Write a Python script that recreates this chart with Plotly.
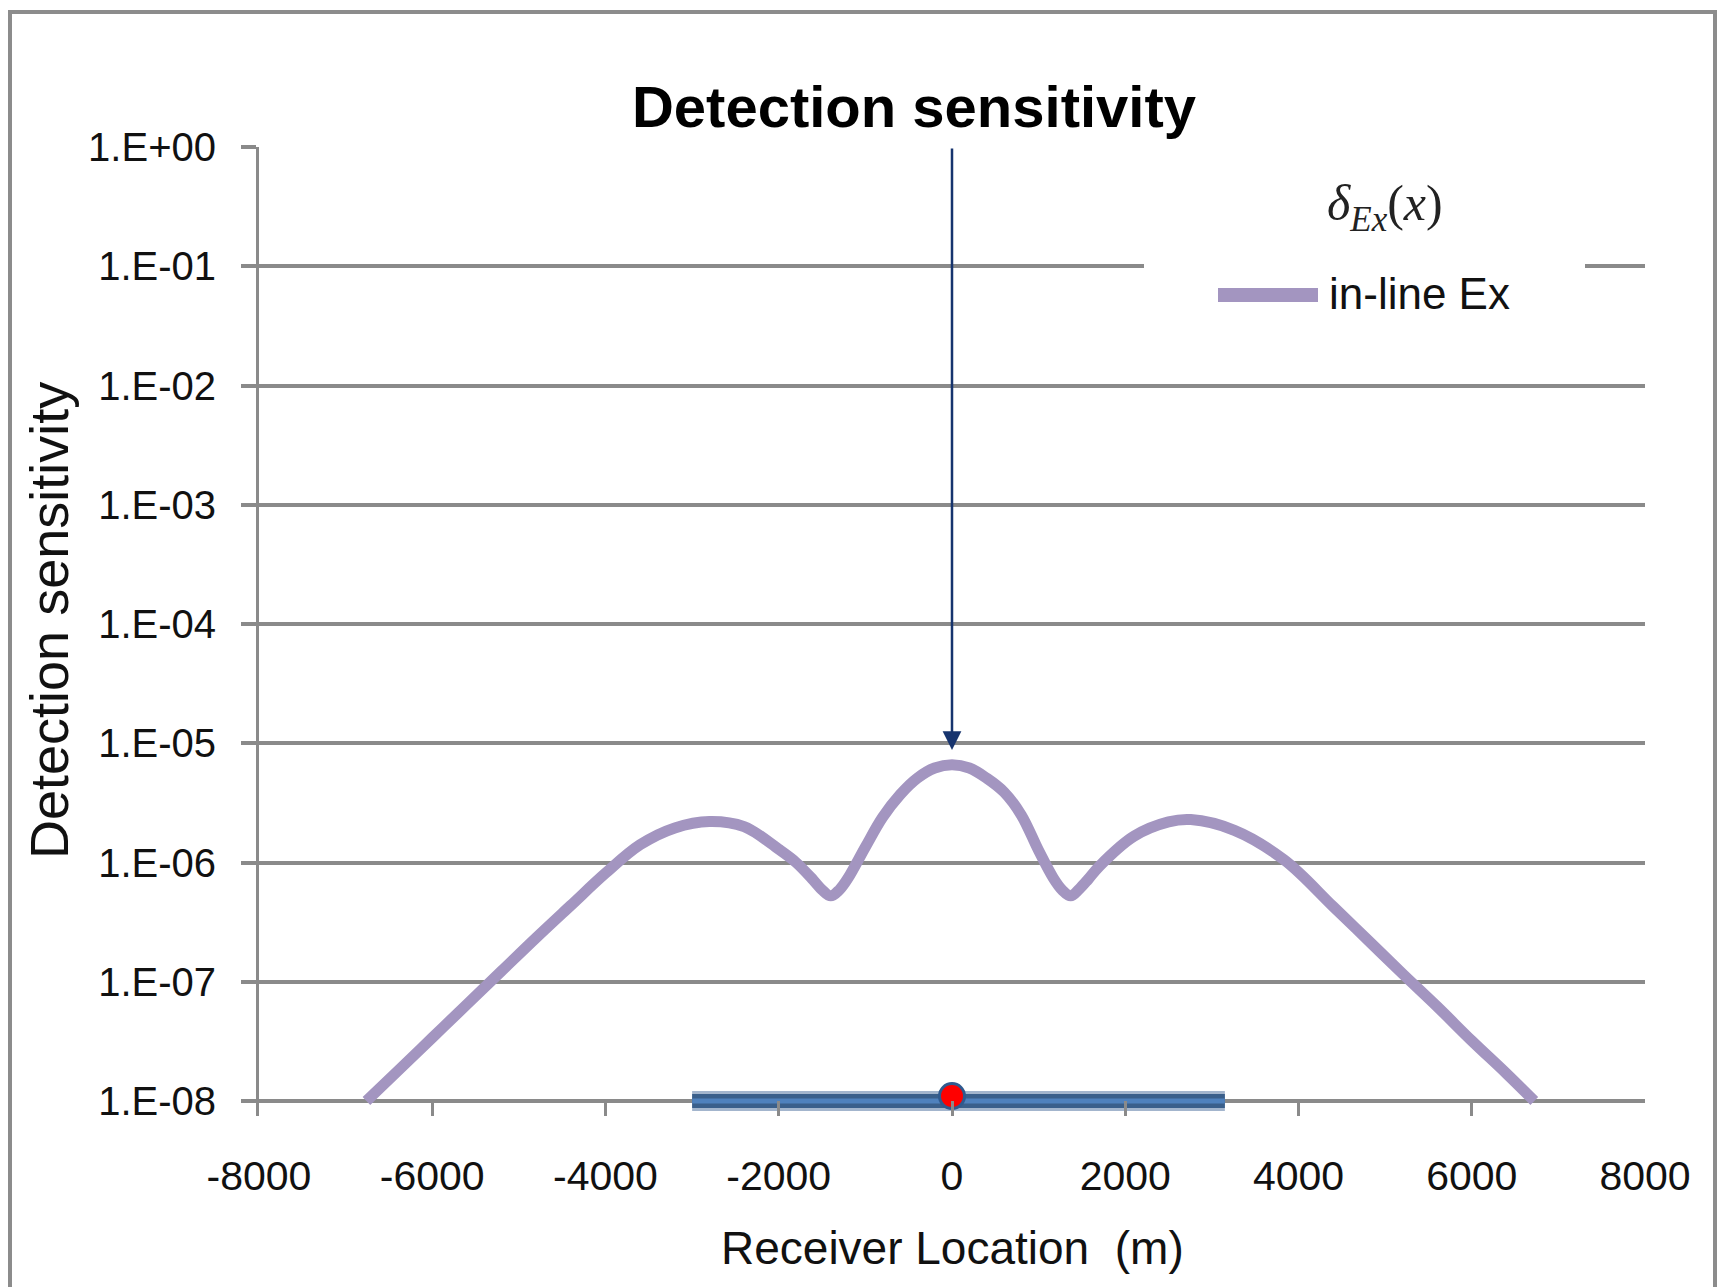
import numpy as np
import plotly.graph_objects as go

# In-line Ex detection sensitivity versus receiver offset
receiver_x = [-6760, -6400, -6000, -5600, -5200, -4800, -4400, -4000, -3600, -3200,
              -2800, -2400, -2000, -1800, -1600, -1500, -1400, -1300, -1200, -1000,
              -800, -600, -400, -200, 0, 200, 400, 600, 800, 1000,
              1170, 1270, 1370, 1470, 1570, 1700, 2100, 2500, 2757, 3260,
              3835, 4400, 4800, 5200, 5600, 6000, 6400, 6722]
sensitivity = [1.00e-8, 1.78e-8, 3.39e-8, 6.46e-8, 1.23e-7, 2.34e-7, 4.37e-7, 8.13e-7, 1.41e-6, 1.95e-6,
               2.21e-6, 2.00e-6, 1.29e-6, 1.00e-6, 7.1e-7, 5.9e-7, 5.25e-7, 5.9e-7, 7.4e-7, 1.35e-6,
               2.4e-6, 3.7e-6, 5.1e-6, 6.2e-6, 6.6e-6, 6.2e-6, 5.1e-6, 3.9e-6, 2.5e-6, 1.26e-6,
               7.4e-7, 5.9e-7, 5.25e-7, 6.0e-7, 7.2e-7, 9.3e-7, 1.66e-6, 2.19e-6, 2.29e-6, 1.86e-6,
               1.05e-6, 4.27e-7, 2.24e-7, 1.17e-7, 6.2e-8, 3.2e-8, 1.7e-8, 1.0e-8]

# Target extent along the line and the source position
target_x = [-3000, 3150]
target_y = [1e-8, 1e-8]
source_x = [0]
source_y = [1.1e-8]

# Arrow pointing at the peak response
arrow_x = 0
arrow_top = 1.0
arrow_tip = 8.77e-6

y_tickvals = [1e-8, 1e-7, 1e-6, 1e-5, 1e-4, 1e-3, 1e-2, 1e-1, 1e0]
y_ticktext = ["1.E-08", "1.E-07", "1.E-06", "1.E-05", "1.E-04", "1.E-03", "1.E-02", "1.E-01", "1.E+00"]
x_tickvals = [-8000, -6000, -4000, -2000, 0, 2000, 4000, 6000, 8000]
x_ticktext = ["-8000", "-6000", "-4000", "-2000", "0", "2000", "4000", "6000", "8000"]

title_text = "Detection sensitivity"
x_title = "Receiver Location \u00a0(m)"
y_title = "Detection sensitivity"
series_name = "in-line Ex"
legend_title = "<i>δ</i><sub><i>Ex</i></sub>(<i>x</i>)"

SANS = "Liberation Sans, Arial, sans-serif"
SERIF = "Liberation Serif, Times New Roman, serif"
GRID = "#8a8a8a"
CURVE = "#a395c0"
NAVY = "#17346e"

fig = go.Figure()

fig.add_trace(go.Scatter(
    x=receiver_x, y=sensitivity, mode="lines", name=series_name,
    line=dict(color=CURVE, width=11, shape="spline", smoothing=1.0),
    showlegend=False,
))

# Target bar: soft edge, dark body, lighter centre stripe
for w, c in [(20, "#a3b5cd"), (14, "#3a5f8b"), (5, "#4f81bd")]:
    fig.add_trace(go.Scatter(
        x=target_x, y=target_y, mode="lines",
        line=dict(color=c, width=w), showlegend=False, hoverinfo="skip",
    ))

fig.add_trace(go.Scatter(
    x=source_x, y=source_y, mode="markers",
    marker=dict(size=25, color="#ff0000", line=dict(color="#2f5a8f", width=3)),
    showlegend=False, cliponaxis=False,
))

W, H = 1717, 1287
L, R, T, B = 259, 72, 147, 171
plot_h = H - T - B


def py(pix):
    return (H - B - pix) / plot_h


def px(pix):
    return (pix - L) / (W - L - R)


shapes = [
    # outer chart frame
    dict(type="rect", xref="paper", yref="paper", x0=px(10), x1=px(1715), y0=py(1300), y1=py(12),
         line=dict(color="#8c8c8c", width=4), fillcolor="rgba(0,0,0,0)", layer="below"),
    # legend background
    dict(type="rect", xref="paper", yref="paper", x0=px(1144), x1=px(1585), y0=py(330), y1=py(165),
         line=dict(width=0), fillcolor="white", layer="above"),
    # legend sample line
    dict(type="line", xref="paper", yref="paper", x0=px(1218), x1=px(1318), y0=py(295), y1=py(295),
         line=dict(color=CURVE, width=14), layer="above"),
]

annotations = [
    dict(x=arrow_x, y=np.log10(arrow_tip), xref="x", yref="y",
         ax=arrow_x, ay=np.log10(arrow_top), axref="x", ayref="y",
         text="", showarrow=True, arrowhead=2, arrowsize=1.5, arrowwidth=2.5, arrowcolor=NAVY),
    dict(x=px(1327), y=py(293), xref="paper", yref="paper", xanchor="left", yanchor="middle",
         text=series_name, showarrow=False, font=dict(family=SANS, size=44, color="#111111")),
    dict(x=px(1385), y=py(207), xref="paper", yref="paper", xanchor="center", yanchor="middle",
         text=legend_title, showarrow=False, font=dict(family=SERIF, size=50, color="#222222")),
    dict(x=px(952), y=py(1248), xref="paper", yref="paper", xanchor="center", yanchor="middle",
         text=x_title, showarrow=False, font=dict(family=SANS, size=46, color="#111111")),
    dict(x=px(49), y=py(621), xref="paper", yref="paper", xanchor="center", yanchor="middle",
         text=y_title, textangle=-90, showarrow=False, font=dict(family=SANS, size=54, color="#111111")),
]

fig.update_layout(
    width=W, height=H,
    margin=dict(l=L, r=R, t=T, b=B, pad=0),
    paper_bgcolor="white", plot_bgcolor="white",
    title=dict(text="<b>" + title_text + "</b>", x=px(914), xref="paper", xanchor="center",
               y=1 - 107 / H, yref="container", yanchor="middle",
               font=dict(family=SANS, size=58, color="#000000")),
    shapes=shapes, annotations=annotations,
    showlegend=False,
    font=dict(family=SANS, color="#111111"),
)

fig.update_xaxes(
    range=[-8000, 8000], tickvals=x_tickvals, ticktext=x_ticktext, showgrid=False, zeroline=False,
    showline=False, ticks="inside", ticklen=15, tickwidth=3, tickcolor=GRID,
    ticklabelstandoff=32, tickfont=dict(family=SANS, size=41, color="#111111"),
    automargin=False,
)
fig.update_yaxes(
    type="log", range=[-8 - 15 / 119.25, 0], tickvals=y_tickvals, ticktext=y_ticktext,
    showgrid=True, gridcolor=GRID, gridwidth=3.5, zeroline=False,
    showline=True, linecolor=GRID, linewidth=3,
    ticks="outside", ticklen=15, tickwidth=3.5, tickcolor=GRID,
    ticklabelstandoff=17, tickfont=dict(family=SANS, size=40, color="#111111"),
    automargin=False,
)

fig.write_html("out.html")
